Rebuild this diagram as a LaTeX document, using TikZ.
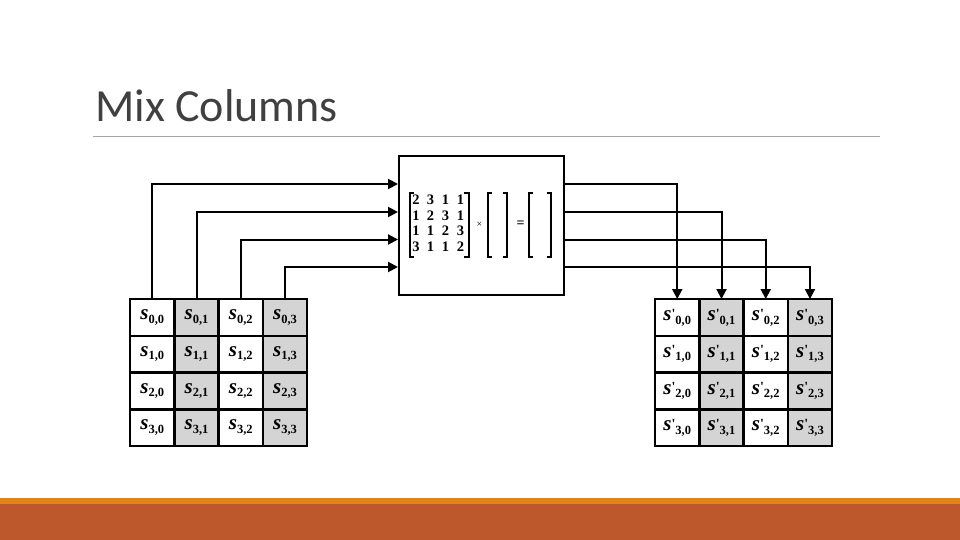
\documentclass[tikz,border=0pt]{standalone}
\usepackage{fontspec}
\newfontfamily\titlefont{Carlito}
\newfontfamily\tmsfont{Liberation Serif}
\usetikzlibrary{arrows.meta}
\definecolor{titlegray}{RGB}{64,64,64}
\definecolor{rulegray}{RGB}{166,166,166}
\definecolor{cellgray}{RGB}{212,212,212}
\definecolor{barlight}{RGB}{226,131,24}
\definecolor{bardark}{RGB}{189,88,44}
\newcommand\cellS[2]{{\tmsfont\bfseries\fontsize{21}{21}\selectfont\itshape s}\raisebox{-3.5pt}{\tmsfont\bfseries\fontsize{12.5}{12.5}\selectfont #1,#2}}
\newcommand\cellP[2]{{\tmsfont\bfseries\fontsize{21}{21}\selectfont\itshape s}\raisebox{2.5pt}{\tmsfont\bfseries\fontsize{14}{14}\selectfont\textquotesingle}\raisebox{-3.5pt}{\tmsfont\bfseries\fontsize{12.5}{12.5}\selectfont #1,#2}}
\tikzset{
  cellbox/.style={draw=black, line width=2.5pt, minimum width=44.25pt, minimum height=36.75pt, inner sep=0pt, outer sep=0pt},
  mixbox/.style={draw=black, line width=2pt, minimum width=165pt, minimum height=139pt, inner sep=0pt},
  arr/.style={line width=2pt, -{Triangle[length=10pt,width=10pt]}},
  brk/.style={line width=2pt},
  digit/.style={font=\tmsfont\bfseries\fontsize{14.5}{14.5}\selectfont, inner sep=0pt, anchor=center},
}
\begin{document}
\begin{tikzpicture}[x=1pt,y=-1pt]
\useasboundingbox (0,0) rectangle (960,540);
% footer bars
\fill[bardark] (0,504) rectangle (960,540);
\fill[barlight] (0,498) rectangle (960,504);
% title
\node[anchor=base west, inner sep=0pt, text=titlegray, font=\titlefont\fontsize{46}{46}\selectfont] (title) at (95,122) {Mix Columns};
\draw[rulegray, line width=1pt] (93,136.5) -- (880,136.5);
% grids
\foreach \r in {0,...,3}{
  \foreach \c in {0,...,3}{
    \pgfmathsetmacro{\fillc}{ifthenelse(mod(\c,2)==1,"cellgray","white")}
    \node[cellbox, fill=\fillc] (L\r\c) at ({152.25+44.25*\c},{317.4+36.75*\r}) {\cellS{\r}{\c}};
    \node[cellbox, fill=\fillc] (R\r\c) at ({677.25+44.25*\c},{317.4+36.75*\r}) {\cellP{\r}{\c}};
  }
}
% mix box
\node[mixbox] (box) at (481.5,225.5) {};
% matrix brackets
\draw[brk] (414,193) -- (409.5,193) -- (409.5,257) -- (414,257);
\draw[brk] (464,193) -- (468.5,193) -- (468.5,257) -- (464,257);
\draw[brk] (492,193) -- (488,193) -- (488,257) -- (492,257);
\draw[brk] (503,193) -- (507,193) -- (507,257) -- (503,257);
\draw[brk] (533,193) -- (529,193) -- (529,257) -- (533,257);
\draw[brk] (547,193) -- (551,193) -- (551,257) -- (547,257);
% digits
\foreach \row/\a/\b/\cc/\d [count=\i from 0] in {200/2/3/1/1, 215.5/1/2/3/1, 231/1/1/2/3, 246.5/3/1/1/2}{
  \node[digit] (m\i0) at (416,\row) {\a};
  \node[digit] (m\i1) at (430.5,\row) {\b};
  \node[digit] (m\i2) at (445.5,\row) {\cc};
  \node[digit] (m\i3) at (460.5,\row) {\d};
}
\node[inner sep=0pt, font=\tmsfont\fontsize{10}{10}\selectfont] (times) at (479.5,225) {×};
\node[inner sep=0pt, font=\tmsfont\bfseries\fontsize{14}{14}\selectfont] (eq) at (520.5,224.5) {=};
% connector coordinates
\foreach \c/\yy in {0/184,1/212,2/239.5,3/267}{
  \coordinate (in\c) at (398,\yy);
  \coordinate (out\c) at (565,\yy);
}
% arrows
\foreach \c in {0,...,3}{
  \draw[arr] (L0\c.north) |- (in\c);
  \draw[arr] (out\c) -| (R0\c.north);
}
\end{tikzpicture}
\end{document}
